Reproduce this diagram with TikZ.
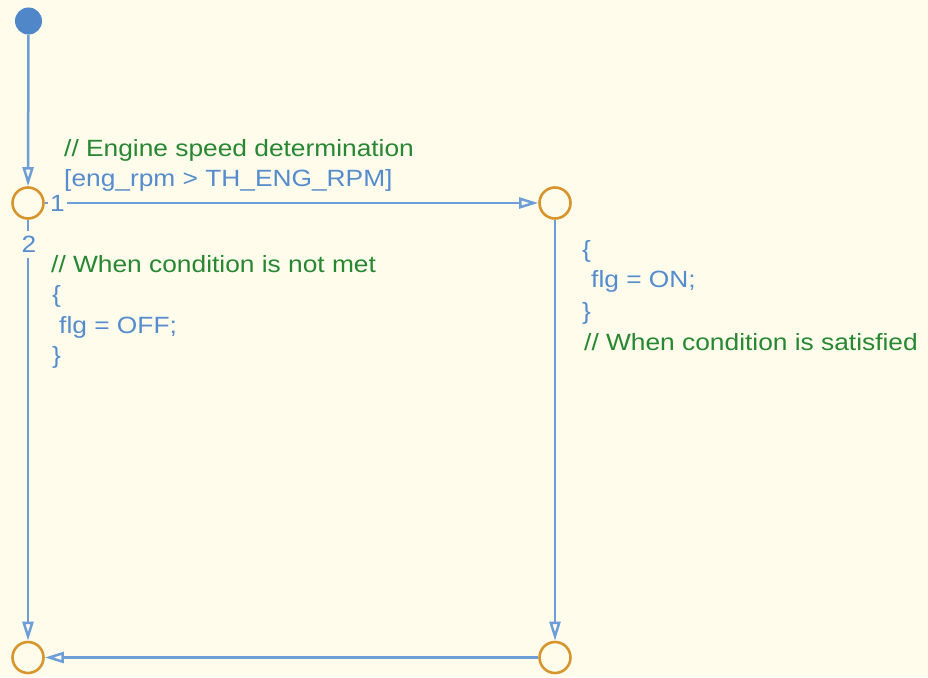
\documentclass[tikz,border=0pt]{standalone}
\usepackage{fontspec}
\setmainfont{Liberation Sans}[FakeStretch=1.12]
\usetikzlibrary{arrows.meta}
\definecolor{bgc}{RGB}{255,252,235}
\definecolor{grn}{RGB}{40,135,50}
\definecolor{txb}{RGB}{85,140,205}
\definecolor{lnb}{RGB}{110,158,215}
\definecolor{orn}{RGB}{215,150,45}
\definecolor{dotb}{RGB}{80,135,200}
\tikzset{
  junc/.style={circle, draw=orn, line width=2.6pt, minimum size=31pt, inner sep=0pt, fill=bgc},
  initdot/.style={circle, fill=dotb, minimum size=27pt, inner sep=0pt},
  conn/.style={draw=lnb, line width=2.5pt, -{Triangle[open, length=19pt, width=11pt]}},
  txt/.style={anchor=base west, inner sep=0pt, font=\fontsize{23.5}{31}\selectfont},
  cmt/.style={txt, text=grn},
  code/.style={txt, text=txb},
  lab/.style={inner xsep=2pt, inner ysep=5pt, fill=bgc, text=txb, font=\fontsize{23.5}{31}\selectfont}
}
\begin{document}
\begin{tikzpicture}[x=1pt,y=-1pt]
\useasboundingbox (0,0) rectangle (928,677);
\fill[bgc] (0,0) rectangle (928,677);
% nodes
\node[initdot] (init) at (28.5,21) {};
\node[junc] (j1) at (28,203) {};
\node[junc] (j2) at (555,203) {};
\node[junc] (j3) at (555,657.5) {};
\node[junc] (j4) at (28,657.5) {};
% connectors
\draw[conn] (init) -- (j1);
\draw[conn] (j1) -- (j2);
\draw[conn] (j1) -- (j4);
\draw[conn] (j2) -- (j3);
\draw[conn] (j3) -- (j4);
% transition order labels
\node[lab] (n1) at (57.5,203.5) {1};
\node[lab] (n2) at (29,244.5) {2};
% texts
\node[cmt] (c1) at (64,156) {// Engine speed determination};
\node[code] (c2) at (64,186) {[eng\_rpm > TH\_ENG\_RPM]};
\node[cmt] (l1) at (51,272) {// When condition is not met};
\node[code] (l2) at (52,302) {\{};
\node[code] (l3) at (59,333) {flg = OFF;};
\node[code] (l4) at (52,363) {\}};
\node[code] (r1) at (582,257) {\{};
\node[code] (r2) at (591,287) {flg = ON;};
\node[code] (r3) at (582,319) {\}};
\node[cmt] (r4) at (584,350) {// When condition is satisfied};
\end{tikzpicture}
\end{document}
